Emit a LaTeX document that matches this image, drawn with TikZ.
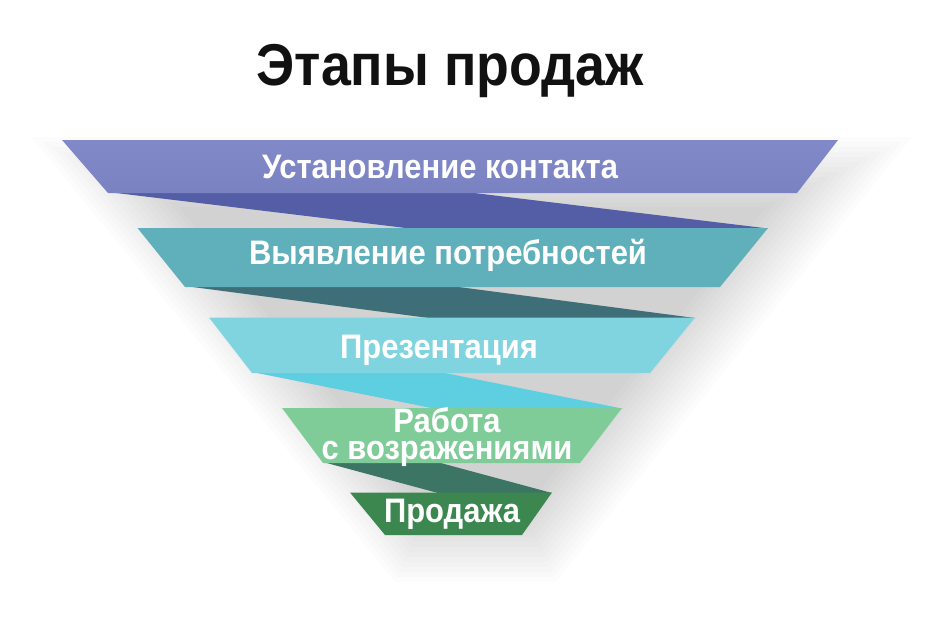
\documentclass[tikz,border=0pt]{standalone}
\usepackage{fontspec}
\setmainfont{Liberation Sans}
\newfontfamily\funnelfont{Liberation Sans}[FakeStretch=0.91]
\definecolor{bandA}{HTML}{7A82C2}
\definecolor{bandAtop}{HTML}{8289C8}
\definecolor{ribA}{HTML}{545EA6}
\definecolor{bandB}{HTML}{5FB0BB}
\definecolor{ribB}{HTML}{3E6E77}
\definecolor{bandC}{HTML}{80D4E0}
\definecolor{ribC}{HTML}{5DCFE1}
\definecolor{bandD}{HTML}{7FCC99}
\definecolor{ribD}{HTML}{3D7564}
\definecolor{bandE}{HTML}{3C874F}
\definecolor{titlecol}{HTML}{111111}
\tikzset{
  lbl/.style={text=white, font=\funnelfont\bfseries\fontsize{34}{27}\selectfont, anchor=base, inner sep=0pt},
  ttl/.style={text=titlecol, font=\funnelfont\bfseries\fontsize{59}{60}\selectfont, anchor=base, inner sep=0pt},
  shadowlayer/.style={fill=black, opacity=0.013},
}
\begin{document}
\begin{tikzpicture}[x=1pt,y=-1pt]
\useasboundingbox (0,0) rectangle (933,622);
\fill[white] (0,0) rectangle (933,622);
% soft shadow behind the funnel
\foreach \d in {-45,-40,...,25}{
  \fill[shadowlayer] ({62-2.11*\d+22},{140-\d+22}) -- ({838+2.08*\d+22},{140-\d+22})
    -- ({522+0.48*\d+22},{535+\d+22}) -- ({385-0.47*\d+22},{535+\d+22}) -- cycle;
}
% ribbons
\fill[ribA] (108,192) -- (466,192) -- (768,228.5) -- (410,228.5) -- cycle;
\fill[ribB] (185,286) -- (451,286) -- (695,318) -- (429,318) -- cycle;
\fill[ribC] (252,372) -- (440,372) -- (622,408.5) -- (434,408.5) -- cycle;
\fill[ribD] (323,462) -- (437,462) -- (552,493) -- (438,493) -- cycle;
% bands
\shade[top color=bandAtop, bottom color=bandA] (62,140) -- (838,140) -- (797,193) -- (108,193) -- cycle;
\fill[bandB] (137.5,228) -- (768,228) -- (720,287) -- (185,287) -- cycle;
\fill[bandC] (209,317.5) -- (695,317.5) -- (650,373) -- (252,373) -- cycle;
\fill[bandD] (282,408) -- (622,408) -- (580,463) -- (323,463) -- cycle;
\fill[bandE] (350,492.5) -- (552,492.5) -- (522,535) -- (385,535) -- cycle;
% texts
\node[ttl] (title) at (450,85) {Этапы продаж};
\node[lbl] (t1) at (440,178) {Установление контакта};
\node[lbl] (t2) at (448,264) {Выявление потребностей};
\node[lbl] (t3) at (439,358) {Презентация};
\node[lbl, anchor=center, align=center] (t4) at (447,437) {Работа\\с возражениями};
\node[lbl] (t5) at (452,522) {Продажа};
\end{tikzpicture}
\end{document}
